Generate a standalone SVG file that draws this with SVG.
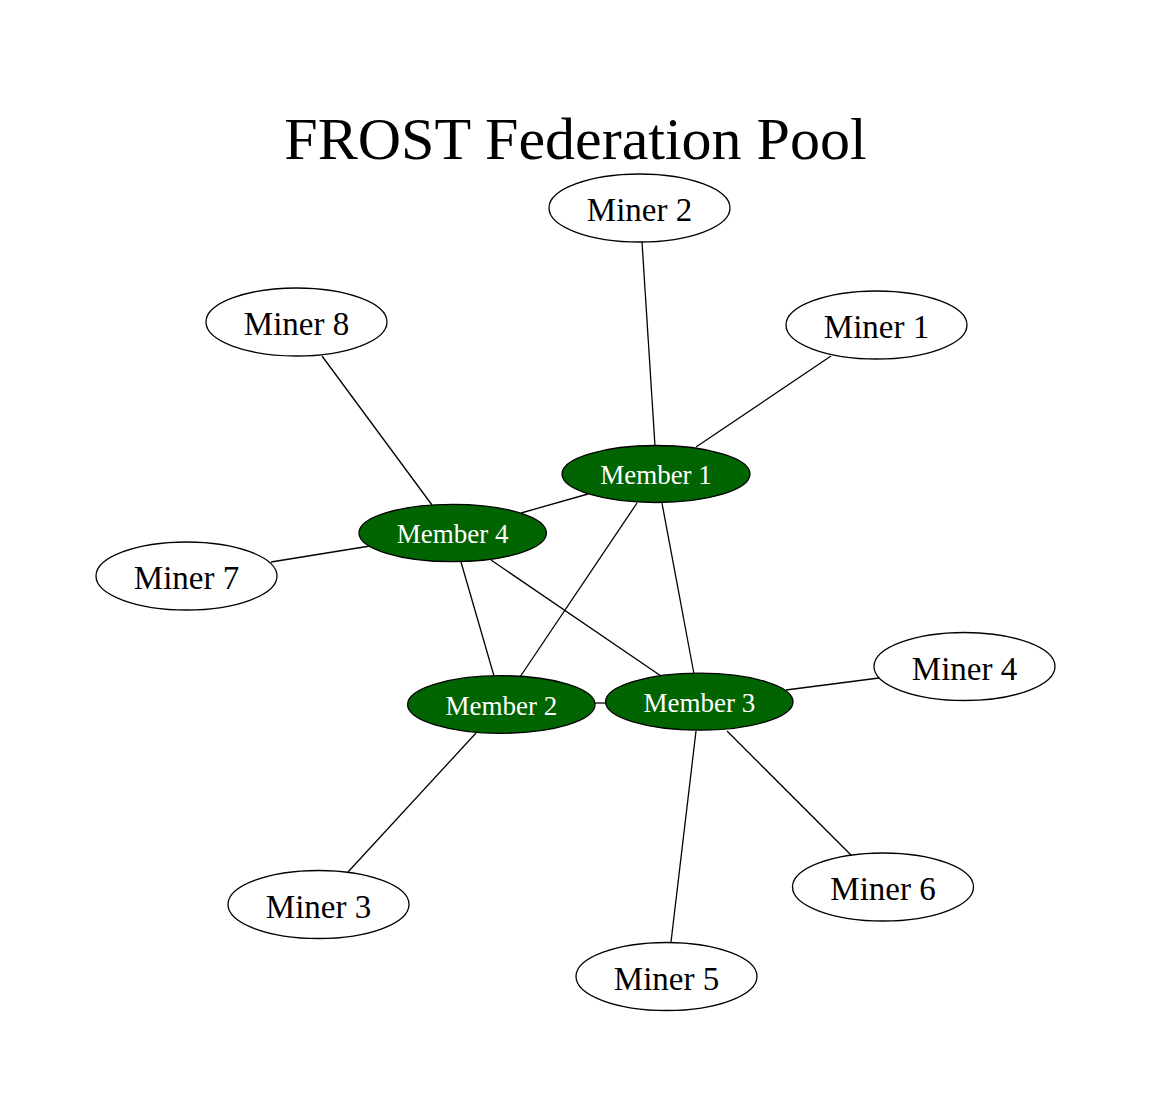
<svg xmlns="http://www.w3.org/2000/svg" width="1152" height="1107" viewBox="0 0 1152 1107">
<style>
.bg{fill:#ffffff}
.miner ellipse{fill:#ffffff;stroke:#000000;stroke-width:1.3}
.member ellipse{fill:#006400;stroke:#000000;stroke-width:1.3}
text{font-family:"Liberation Serif","Times New Roman",serif;text-anchor:middle}
.miner text{font-size:33px;fill:#000000}
.member text{font-size:27px;fill:#ffffff}
.title{font-size:60px;fill:#000000}
#edges line{stroke:#000000;stroke-width:1.3}
</style>
<rect class="bg" x="0" y="0" width="1152" height="1107"/>
<text class="title" x="575.5" y="159">FROST Federation Pool</text>
<g id="edges">
<line x1="642" y1="242" x2="655" y2="446"/>
<line x1="831" y1="356" x2="696" y2="447"/>
<line x1="322" y1="356" x2="432" y2="505"/>
<line x1="521" y1="513" x2="588" y2="494"/>
<line x1="271" y1="562" x2="370" y2="546"/>
<line x1="461" y1="562" x2="494" y2="676"/>
<line x1="491" y1="560" x2="661" y2="676"/>
<line x1="637" y1="503" x2="520" y2="677"/>
<line x1="662" y1="503" x2="694" y2="674"/>
<line x1="595" y1="703" x2="606" y2="703"/>
<line x1="786" y1="690" x2="879" y2="678"/>
<line x1="476" y1="733" x2="348" y2="872"/>
<line x1="696" y1="731" x2="671" y2="942"/>
<line x1="727" y1="731" x2="851" y2="855"/>
</g>
<g id="miner2" class="miner"><ellipse cx="639.5" cy="208" rx="90.5" ry="34"/><text x="639.5" y="221">Miner 2</text></g>
<g id="miner8" class="miner"><ellipse cx="296.5" cy="322" rx="90.5" ry="34"/><text x="296.5" y="335">Miner 8</text></g>
<g id="miner1" class="miner"><ellipse cx="876.5" cy="325" rx="90.5" ry="34"/><text x="876.5" y="338">Miner 1</text></g>
<g id="miner7" class="miner"><ellipse cx="186.5" cy="576" rx="90.5" ry="34"/><text x="186.5" y="589">Miner 7</text></g>
<g id="miner4" class="miner"><ellipse cx="964.5" cy="666.5" rx="90.5" ry="34"/><text x="964.5" y="679.5">Miner 4</text></g>
<g id="miner3" class="miner"><ellipse cx="318.5" cy="904.5" rx="90.5" ry="34"/><text x="318.5" y="917.5">Miner 3</text></g>
<g id="miner6" class="miner"><ellipse cx="883" cy="887" rx="90.5" ry="34"/><text x="883" y="900">Miner 6</text></g>
<g id="miner5" class="miner"><ellipse cx="666.5" cy="976.5" rx="90.5" ry="34"/><text x="666.5" y="989.5">Miner 5</text></g>
<g id="member1" class="member"><ellipse cx="656" cy="474" rx="94" ry="28.5"/><text x="656" y="484">Member 1</text></g>
<g id="member4" class="member"><ellipse cx="452.7" cy="533" rx="93.7" ry="28.7"/><text x="452.7" y="543">Member 4</text></g>
<g id="member2" class="member"><ellipse cx="501.3" cy="704.5" rx="93.7" ry="28.8"/><text x="501.3" y="714.5">Member 2</text></g>
<g id="member3" class="member"><ellipse cx="699.3" cy="701.7" rx="93.7" ry="28.5"/><text x="699.3" y="711.7">Member 3</text></g>
</svg>
